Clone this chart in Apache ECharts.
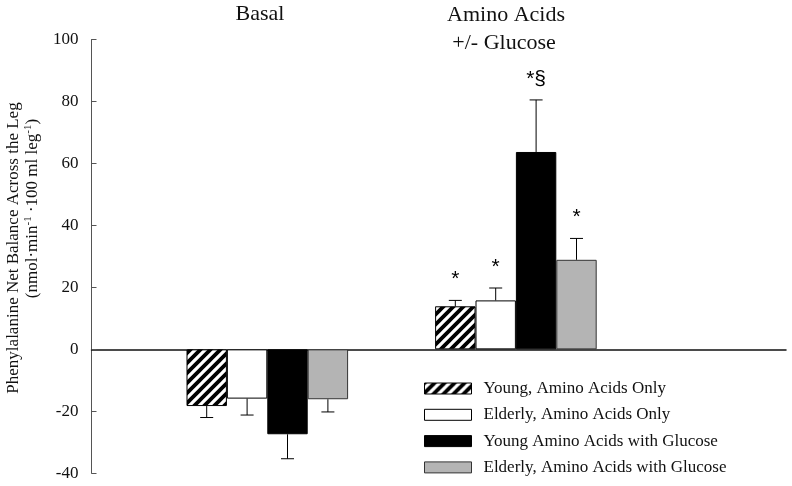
<!DOCTYPE html>
<html>
<head>
<meta charset="utf-8">
<script src="https://cdn.jsdelivr.net/npm/echarts@6/dist/echarts.min.js"></script>
<style>html,body{margin:0;padding:0;background:#fff;}#c{width:792px;height:486px;}</style>
</head>
<body>
<div id="c"></div>
<script>
// ---- data ----
const categories = ['Basal', 'Amino Acids\n+/- Glucose'];
const seriesNames = [
  'Young, Amino Acids Only',
  'Elderly, Amino Acids Only',
  'Young Amino Acids with Glucose',
  'Elderly, Amino Acids with Glucose'
];
const youngAA = [-18.3, 13.9];
const elderlyAA = [-15.9, 15.8];
const youngAAGlu = [-27.4, 63.7];
const elderlyAAGlu = [-16.1, 28.9];
const youngAA_se = [3.7, 1.9];
const elderlyAA_se = [5.3, 4.0];
const youngAAGlu_se = [7.9, 16.8];
const elderlyAAGlu_se = [4.1, 6.9];
const youngAA_sig = ['', '*'];
const elderlyAA_sig = ['', '*'];
const youngAAGlu_sig = ['', '*§'];
const elderlyAAGlu_sig = ['', '*'];
const yTicks = { min: -40, max: 100, interval: 20 };

// ---- styles ----
const SERIF = '"Liberation Serif", "Times New Roman", serif';
const SANS = '"Liberation Sans", Arial, sans-serif';
const BAR_W = 40.4;

function hatch() {
  const c = document.createElement('canvas');
  c.width = 10; c.height = 10;
  const g = c.getContext('2d');
  g.fillStyle = '#fff'; g.fillRect(0, 0, 10, 10);
  g.strokeStyle = '#000'; g.lineWidth = 3.8;
  g.beginPath();
  g.moveTo(-5, 5); g.lineTo(5, -5);
  g.moveTo(0, 10); g.lineTo(10, 0);
  g.moveTo(5, 15); g.lineTo(15, 5);
  g.stroke();
  return c;
}

const means = [youngAA, elderlyAA, youngAAGlu, elderlyAAGlu];
const ses = [youngAA_se, elderlyAA_se, youngAAGlu_se, elderlyAAGlu_se];
const sigs = [youngAA_sig, elderlyAA_sig, youngAAGlu_sig, elderlyAAGlu_sig];
const fills = [{ image: hatch(), repeat: 'repeat' }, '#ffffff', '#000000', '#b4b4b4'];
const borders = ['#000', '#000', '#000', '#333'];

const errData = [];
means.forEach((arr, s) => arr.forEach((v, i) => errData.push([i, v, ses[s][i], s, sigs[s][i]])));

const chart = echarts.init(document.getElementById('c'));

const barSeries = means.map((arr, s) => ({
  name: seriesNames[s],
  type: 'bar',
  xAxisIndex: 1, yAxisIndex: 1,
  data: arr,
  barWidth: BAR_W,
  barGap: '0%',
  itemStyle: { color: fills[s], borderColor: borders[s], borderWidth: 1 },
  z: 2
}));

const errSeries = {
  type: 'custom',
  xAxisIndex: 1, yAxisIndex: 1,
  data: errData,
  z: 5,
  silent: true,
  renderItem: function (params, api) {
    const i = api.value(0), v = api.value(1), se = api.value(2), s = api.value(3);
    const sig = errData[params.dataIndex][4];
    const end = v >= 0 ? v + se : v - se;
    const p0 = api.coord([i, v]);
    const p1 = api.coord([i, end]);
    const x = p0[0] + (s - 1.5) * BAR_W;
    const children = [
      { type: 'line', shape: { x1: x, y1: p0[1], x2: x, y2: p1[1] }, style: { stroke: '#000', lineWidth: 1 } },
      { type: 'line', shape: { x1: x - 6.5, y1: p1[1], x2: x + 6.5, y2: p1[1] }, style: { stroke: '#000', lineWidth: 1 } }
    ];
    if (sig) {
      children.push({
        type: 'text',
        style: { text: sig, x: x, y: p1[1] - 21, align: 'center', verticalAlign: 'middle',
          font: '21px ' + SANS, fill: '#000' }
      });
    }
    return { type: 'group', children: children };
  }
};

const catTitle = categories[1].split('\n');

chart.setOption({
  animation: false,
  backgroundColor: '#fff',
  grid: [
    { left: 91.5, right: 6, top: 39.5, bottom: 12.7 },
    { left: 143, right: 151.8, top: 39.5, bottom: 12.7 }
  ],
  xAxis: [
    { gridIndex: 0, type: 'value', min: 0, max: 1,
      axisLine: { show: true, onZero: true, lineStyle: { color: '#111', width: 1.5 } },
      axisTick: { show: false }, axisLabel: { show: false }, splitLine: { show: false } },
    { gridIndex: 1, type: 'category', data: categories, show: false }
  ],
  yAxis: [
    { gridIndex: 0, type: 'value', min: yTicks.min, max: yTicks.max, interval: yTicks.interval,
      axisLine: { show: true, onZero: false, lineStyle: { color: '#555', width: 1 } },
      axisTick: { show: true, inside: true, length: 5, lineStyle: { color: '#555' } },
      axisLabel: { margin: 13, fontFamily: SERIF, fontSize: 17, color: '#111' },
      splitLine: { show: false } },
    { gridIndex: 1, type: 'value', min: yTicks.min, max: yTicks.max, interval: yTicks.interval, show: false }
  ],
  legend: {
    orient: 'vertical',
    left: 424, top: 380,
    padding: 0,
    itemWidth: 47, itemHeight: 11,
    itemGap: 9.3,
    icon: 'rect',
    itemStyle: { borderWidth: 1 },
    textStyle: { fontFamily: SERIF, fontSize: 17, color: '#111', lineHeight: 15, padding: [0, 0, 0, 7] },
    data: seriesNames
  },
  graphic: [
    { type: 'text', x: 260, y: 14, style: { text: categories[0], font: '22px ' + SERIF, fill: '#111', align: 'center', verticalAlign: 'middle' } },
    { type: 'text', x: 506, y: 15, style: { text: catTitle[0], font: '22px ' + SERIF, fill: '#111', align: 'center', verticalAlign: 'middle' } },
    { type: 'text', x: 504, y: 43, style: { text: catTitle[1], font: '22px ' + SERIF, fill: '#111', align: 'center', verticalAlign: 'middle' } },
    { type: 'text', x: 14, y: 248, rotation: Math.PI / 2,
      style: { text: 'Phenylalanine Net Balance Across the Leg', font: '17px ' + SERIF, fill: '#111', align: 'center', verticalAlign: 'middle' } },
    { type: 'text', x: 32, y: 208.5, rotation: Math.PI / 2,
      style: {
        text: '{n|(nmol·min}{s|-1}{n| ·100 ml leg}{s|-1}{n|)}',
        align: 'center', verticalAlign: 'middle',
        rich: {
          n: { font: '17px ' + SERIF, fill: '#111', lineHeight: 18, verticalAlign: 'bottom' },
          s: { font: '11px ' + SERIF, fill: '#111', lineHeight: 18, verticalAlign: 'top' }
        }
      } }
  ],
  series: barSeries.concat([errSeries])
});
</script>
</body>
</html>
